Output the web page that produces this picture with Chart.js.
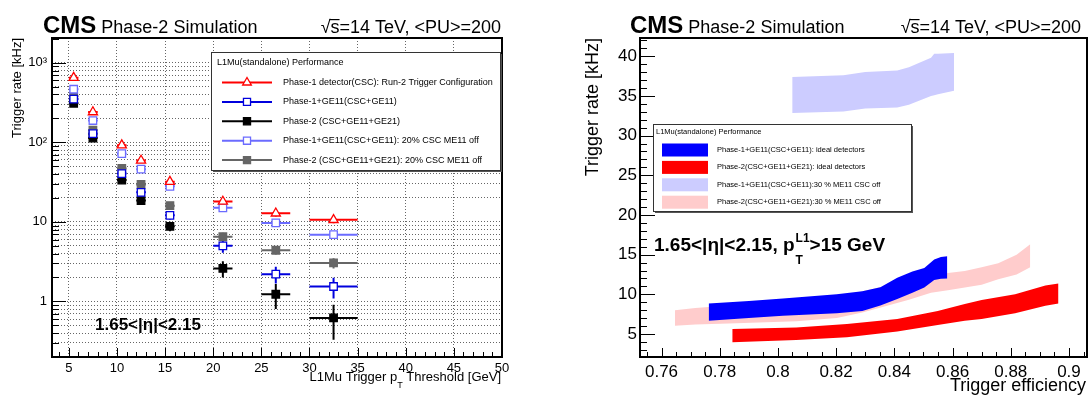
<!DOCTYPE html>
<html lang="en">
<head>
<meta charset="UTF-8">
<title>L1Mu Phase-2 trigger rate</title>
<script src="https://cdn.jsdelivr.net/npm/chart.js"></script>
<style>
  body { margin: 0; background: #fff; }
  #leftBox { position: absolute; left: 0; top: 0; }
  #rightBox { position: absolute; left: 545px; top: 0; }
</style>
</head>
<body>
<div id="leftBox"><canvas id="rateChart" width="545" height="396"></canvas></div>
<div id="rightBox"><canvas id="effChart" width="544" height="396"></canvas></div>
<script>
// ---------- left panel: rate vs L1 pT threshold ----------
var ptThresholds = [5.5, 7.5, 10.5, 12.5, 15.5, 21, 26.5, 32.5];
var ptBinLow  = [5, 7, 10, 12, 15, 20, 25, 30];
var ptBinHigh = [6, 8, 11, 13, 16, 22, 28, 35];

var ratePhase1Run2 = [650, 240, 92, 59, 32, 18.0, 12.8, 10.6];
var errPhase1Run2  = [12, 7, 4, 3, 2.2, 1.3, 1.1, 1.0];
var ratePhase1GE11 = [350, 129, 40.5, 23.5, 12.1, 5.0, 2.2, 1.54];
var errPhase1GE11  = [9, 5, 2.7, 2.0, 1.4, 0.9, 0.52, 0.45];
var ratePhase2     = [310, 113, 33.5, 18.5, 8.8, 2.6, 1.23, 0.62];
var errPhase2      = [8, 5, 2.5, 1.8, 1.2, 0.6, 0.43, 0.29];
var ratePhase1GE11Off = [465, 188, 72, 46, 28, 15.0, 9.7, 6.9];
var errPhase1GE11Off  = [10, 6, 3.5, 2.8, 2.2, 1.2, 1.0, 0.8];
var ratePhase2Off     = [380, 142, 47, 29.5, 16, 6.5, 4.4, 3.05];
var errPhase2Off      = [9, 5.5, 2.8, 2.2, 1.6, 0.8, 0.5, 0.45];

var ptTicks = [5, 10, 15, 20, 25, 30, 35, 40, 45, 50];
var rateDecades = [1, 10, 100, 1000];

// ---------- right panel: rate vs efficiency bands ----------
var effPhase1Ideal  = [0.7762, 0.790, 0.8017, 0.8202, 0.829, 0.8352, 0.841, 0.8462, 0.8503, 0.8537, 0.8560, 0.8582];
var ratePhase1IdealHi = [8.84, 9.15, 9.47, 10.0, 10.4, 10.9, 12.1, 12.86, 13.3, 14.4, 14.7, 14.8];
var ratePhase1IdealLo = [6.67, 7.0, 7.3, 7.6, 7.9, 8.6, 9.4, 10.2, 10.85, 11.8, 11.95, 12.0];

var effPhase2Ideal  = [0.7843, 0.8063, 0.8237, 0.841, 0.8549, 0.8642, 0.870, 0.8815, 0.8919, 0.8964];
var ratePhase2IdealHi = [5.63, 5.83, 6.26, 6.9, 7.9, 8.77, 9.27, 10.0, 11.1, 11.35];
var ratePhase2IdealLo = [3.95, 4.25, 4.58, 5.3, 6.13, 6.67, 6.9, 7.6, 8.55, 8.85];

var effPhase1Off  = [0.8049, 0.8225, 0.830, 0.841, 0.845, 0.8526, 0.8537, 0.855, 0.8605];
var ratePhase1OffHi = [37.4, 37.6, 38.0, 38.2, 38.6, 39.8, 40.3, 40.3, 40.4];
var ratePhase1OffLo = [32.85, 33.05, 33.4, 33.55, 33.9, 35.0, 35.1, 35.2, 35.65];

var effPhase2Off  = [0.7646, 0.7716, 0.7831, 0.8063, 0.8202, 0.829, 0.835, 0.845, 0.8526, 0.8584, 0.8642, 0.870, 0.8757, 0.882, 0.8867];
var ratePhase2OffHi = [8.0, 8.27, 8.6, 9.1, 9.6, 10.4, 10.9, 11.4, 12.2, 12.7, 12.95, 13.4, 13.9, 15.0, 16.3];
var ratePhase2OffLo = [6.05, 6.2, 6.33, 6.6, 7.0, 7.7, 8.3, 9.3, 10.2, 10.5, 10.85, 11.2, 11.9, 12.5, 13.4];

var effTicks = [0.76, 0.78, 0.8, 0.82, 0.84, 0.86, 0.88, 0.9];
var rateTicksRight = [5, 10, 15, 20, 25, 30, 35, 40];

var FONT = "'Liberation Sans', Arial, Helvetica, sans-serif";
Chart.defaults.font.family = FONT;
Chart.defaults.color = '#000';

var rateSeries = [
  { label: 'Phase-1 detector(CSC): Run-2 Trigger Configuration', values: ratePhase1Run2, err: errPhase1Run2, color: '#ff0000', style: 'triangle', open: true },
  { label: 'Phase-1+GE11(CSC+GE11)', values: ratePhase1GE11, err: errPhase1GE11, color: '#0000dd', style: 'rect', open: true },
  { label: 'Phase-2 (CSC+GE11+GE21)', values: ratePhase2, err: errPhase2, color: '#000000', style: 'rect', open: false },
  { label: 'Phase-1+GE11(CSC+GE11): 20% CSC ME11 off', values: ratePhase1GE11Off, err: errPhase1GE11Off, color: '#6b6bff', style: 'rect', open: true },
  { label: 'Phase-2 (CSC+GE11+GE21): 20% CSC ME11 off', values: ratePhase2Off, err: errPhase2Off, color: '#666666', style: 'rect', open: false }
];

var bandSeries = [
  { label: 'Phase-1+GE11(CSC+GE11): ideal detectors', eff: effPhase1Ideal, hi: ratePhase1IdealHi, lo: ratePhase1IdealLo, color: '#0000ff', order: 1 },
  { label: 'Phase-2(CSC+GE11+GE21): ideal detectors', eff: effPhase2Ideal, hi: ratePhase2IdealHi, lo: ratePhase2IdealLo, color: '#ff0000', order: 2 },
  { label: 'Phase-1+GE11(CSC+GE11):30 % ME11 CSC off', eff: effPhase1Off, hi: ratePhase1OffHi, lo: ratePhase1OffLo, color: '#ccccff', order: 3 },
  { label: 'Phase-2(CSC+GE11+GE21):30 % ME11 CSC off', eff: effPhase2Off, hi: ratePhase2OffHi, lo: ratePhase2OffLo, color: '#ffcccc', order: 4 }
];

// ---------- drawing helpers ----------
function marker(ctx, style, open, color, x, y, r) {
  ctx.save();
  ctx.beginPath();
  if (style === 'triangle') {
    ctx.moveTo(x, y - r); ctx.lineTo(x + r * 0.866, y + r * 0.5); ctx.lineTo(x - r * 0.866, y + r * 0.5); ctx.closePath();
  } else {
    var s = r * Math.SQRT1_2;
    ctx.rect(x - s, y - s, 2 * s, 2 * s);
  }
  ctx.fillStyle = open ? '#fff' : color; ctx.fill();
  ctx.lineWidth = 1.3; ctx.strokeStyle = color; ctx.stroke();
  ctx.restore();
}

function header(ctx, cmsX, rightX) {
  ctx.save();
  ctx.fillStyle = '#000'; ctx.textBaseline = 'alphabetic'; ctx.textAlign = 'left';
  ctx.font = 'bold 24px ' + FONT;
  ctx.fillText('CMS', cmsX, 33);
  var w = ctx.measureText('CMS').width;
  ctx.font = '18px ' + FONT;
  ctx.fillText('Phase-2 Simulation', cmsX + w + 5, 33);
  var txt = '√s=14 TeV, <PU>=200';
  var tw = ctx.measureText(txt).width;
  ctx.fillText(txt, rightX - tw, 33);
  // bar over the s of the square root
  var wr = ctx.measureText('√').width, ws = ctx.measureText('s').width;
  ctx.fillRect(rightX - tw + wr - 1, 19, ws + 1, 1.2);
  ctx.restore();
}

function frameAndTicks(chart, spec) {
  var ctx = chart.ctx, a = chart.chartArea, xs = chart.scales.x, ys = chart.scales.y;
  ctx.save();
  ctx.strokeStyle = '#000'; ctx.lineWidth = 1;
  ctx.beginPath();
  function tx(v, len) { var p = Math.round(xs.getPixelForValue(v)) + 0.5; ctx.moveTo(p, a.bottom); ctx.lineTo(p, a.bottom - len); }
  function ty(v, len) { var p = Math.round(ys.getPixelForValue(v)) + 0.5; ctx.moveTo(a.left, p); ctx.lineTo(a.left + len, p); }
  spec.xMajor.forEach(function (v) { tx(v, spec.xMajorLen); });
  spec.xMinor.forEach(function (v) { tx(v, spec.xMinorLen); });
  spec.yMajor.forEach(function (v) { ty(v, spec.yMajorLen); });
  spec.yMinor.forEach(function (v) { ty(v, spec.yMinorLen); });
  ctx.stroke();
  ctx.lineWidth = 2;
  ctx.strokeRect(a.left, a.top, a.right - a.left, a.bottom - a.top);
  ctx.restore();
}

function legendBox(ctx, x1, y1, x2, y2) {
  ctx.save();
  ctx.fillStyle = '#fff'; ctx.fillRect(x1, y1, x2 - x1, y2 - y1);
  ctx.fillStyle = '#555';
  ctx.fillRect(x2, y1 + 2, 2, y2 - y1);
  ctx.fillRect(x1 + 2, y2, x2 - x1, 2);
  ctx.strokeStyle = '#333'; ctx.lineWidth = 1;
  ctx.strokeRect(x1 + 0.5, y1 + 0.5, x2 - x1, y2 - y1);
  ctx.restore();
}

// ---------- left chart plugins ----------
var errorBars = {
  id: 'errorBars',
  beforeDatasetsDraw: function (chart) {
    var ctx = chart.ctx, xs = chart.scales.x, ys = chart.scales.y;
    chart.data.datasets.forEach(function (ds) {
      ctx.save();
      ctx.strokeStyle = ds.borderColor; ctx.lineWidth = 2;
      ctx.beginPath();
      ds.data.forEach(function (p, i) {
        var x = xs.getPixelForValue(p.x), y = ys.getPixelForValue(p.y);
        ctx.moveTo(xs.getPixelForValue(ptBinLow[i]), y);
        ctx.lineTo(xs.getPixelForValue(ptBinHigh[i]), y);
        ctx.moveTo(x, ys.getPixelForValue(p.y - ds.yErr[i]));
        ctx.lineTo(x, ys.getPixelForValue(p.y + ds.yErr[i]));
      });
      ctx.stroke();
      ctx.restore();
    });
  }
};

var rateDecor = {
  id: 'rateDecor',
  afterDraw: function (chart) {
    var ctx = chart.ctx, a = chart.chartArea;
    var xMinor = [], yMinor = [];
    for (var i = 4; i < 50; i++) if (i % 5) xMinor.push(i);
    [0.1, 1, 10, 100, 1000].forEach(function (d) { for (var k = 2; k <= 9; k++) if (k * d >= 0.2 && k * d <= 2000) yMinor.push(k * d); });
    frameAndTicks(chart, { xMajor: ptTicks, xMajorLen: 9, xMinor: xMinor, xMinorLen: 5,
                           yMajor: rateDecades, yMajorLen: 14, yMinor: yMinor, yMinorLen: 7 });
    header(ctx, 43, 501);

    ctx.save();
    ctx.fillStyle = '#000';
    // y title
    ctx.font = '13px ' + FONT;
    ctx.translate(17, a.top);
    ctx.rotate(-Math.PI / 2);
    ctx.textAlign = 'right'; ctx.textBaseline = 'middle';
    ctx.fillText('Trigger rate [kHz]', 0, 0);
    ctx.restore();

    // x title with subscript
    ctx.save();
    ctx.fillStyle = '#000'; ctx.textAlign = 'left'; ctx.textBaseline = 'alphabetic';
    ctx.font = '9px ' + FONT; var wT = ctx.measureText('T').width;
    ctx.font = '13px ' + FONT;
    var s1 = 'L1Mu Trigger p', s2 = ' Threshold [GeV]';
    var w1 = ctx.measureText(s1).width, w2 = ctx.measureText(s2).width;
    var x0 = a.right - 1 - w1 - wT - w2;
    ctx.fillText(s1, x0, 381);
    ctx.fillText(s2, x0 + w1 + wT, 381);
    ctx.font = '9px ' + FONT; ctx.fillText('T', x0 + w1, 388);

    // eta label
    ctx.font = 'bold 17px ' + FONT;
    ctx.fillText('1.65<|η|<2.15', 95, 330);
    ctx.restore();

    // legend
    var lx1 = a.left + 159, ly1 = a.top + 14, lx2 = a.right - 2, ly2 = a.top + 132;
    legendBox(ctx, lx1, ly1, lx2, ly2);
    ctx.save();
    ctx.fillStyle = '#000'; ctx.font = '9px ' + FONT; ctx.textBaseline = 'middle'; ctx.textAlign = 'left';
    ctx.fillText('L1Mu(standalone) Performance', lx1 + 6, ly1 + 11);
    rateSeries.forEach(function (s, i) {
      var y = ly1 + 30.5 + i * 19.4;
      ctx.strokeStyle = s.color; ctx.lineWidth = 2;
      ctx.beginPath(); ctx.moveTo(lx1 + 11, y); ctx.lineTo(lx1 + 61, y); ctx.stroke();
      marker(ctx, s.style, s.open, s.color, lx1 + 36, y, 5);
      ctx.fillStyle = '#000';
      ctx.fillText(s.label, lx1 + 72, y);
    });
    ctx.restore();
  }
};

new Chart(document.getElementById('rateChart'), {
  type: 'scatter',
  data: {
    datasets: rateSeries.map(function (s) {
      return {
        label: s.label,
        data: ptThresholds.map(function (x, i) { return { x: x, y: s.values[i] }; }),
        yErr: s.err,
        borderColor: s.color,
        backgroundColor: s.open ? '#ffffff' : s.color,
        pointStyle: s.style,
        pointRadius: 5.3,
        pointBorderWidth: 1.3,
        showLine: false
      };
    })
  },
  options: {
    responsive: false,
    animation: false,
    layout: { padding: { top: 38, right: 43, left: 0, bottom: 0 } },
    plugins: { legend: { display: false }, tooltip: { enabled: false } },
    scales: {
      x: {
        type: 'linear', min: 3.25, max: 50,
        afterBuildTicks: function (s) { s.ticks = ptTicks.map(function (v) { return { value: v }; }); },
        afterFit: function (s) { s.height = 39; },
        grid: { color: '#666', lineWidth: 1, drawTicks: false },
        border: { display: false, dash: [1, 2] },
        ticks: { padding: 4, font: { size: 13 }, maxRotation: 0, autoSkip: false, color: '#000' }
      },
      y: {
        type: 'logarithmic', min: 0.2, max: 2050,
        afterBuildTicks: function (s) {
          var t = [];
          [0.1, 1, 10, 100, 1000].forEach(function (d) { for (var k = 1; k <= 9; k++) { var v = k * d; if (v >= 0.2 && v <= 2000) t.push({ value: v }); } });
          s.ticks = t;
        },
        afterFit: function (s) { s.width = 52; },
        grid: { color: '#666', lineWidth: 1, drawTicks: false },
        border: { display: false, dash: [1, 2] },
        ticks: {
          padding: 5, font: { size: 13 }, autoSkip: false, color: '#000',
          callback: function (v) {
            if (v === 1) return '1';
            if (v === 10) return '10';
            if (v === 100) return '10²';
            if (v === 1000) return '10³';
            return '';
          }
        }
      }
    }
  },
  plugins: [errorBars, rateDecor]
});

// ---------- right chart ----------
var effDecor = {
  id: 'effDecor',
  afterDraw: function (chart) {
    var ctx = chart.ctx, a = chart.chartArea;
    var xMinor = [], yMinor = [];
    for (var i = 151; i <= 181; i++) if (i % 4) xMinor.push(i * 0.005);
    for (var j = 3; j <= 42; j++) if (j % 5) yMinor.push(j);
    frameAndTicks(chart, { xMajor: effTicks, xMajorLen: 9, xMinor: xMinor, xMinorLen: 5,
                           yMajor: rateTicksRight, yMajorLen: 15, yMinor: yMinor, yMinorLen: 7 });
    header(ctx, 85, 536);

    ctx.save();
    ctx.fillStyle = '#000';
    ctx.font = '18px ' + FONT;
    ctx.translate(48, a.top);
    ctx.rotate(-Math.PI / 2);
    ctx.textAlign = 'right'; ctx.textBaseline = 'middle';
    ctx.fillText('Trigger rate [kHz]', 0, 0);
    ctx.restore();

    ctx.save();
    ctx.fillStyle = '#000'; ctx.font = '18px ' + FONT; ctx.textAlign = 'right'; ctx.textBaseline = 'alphabetic';
    ctx.fillText('Trigger efficiency', a.right - 1, 391);

    // cut label with p_T^L1
    ctx.textAlign = 'left';
    ctx.font = 'bold 19px ' + FONT;
    var main = '1.65<|η|<2.15, p';
    var x0 = a.left + 14;
    ctx.fillText(main, x0, 251);
    var wm = ctx.measureText(main).width;
    ctx.font = 'bold 12px ' + FONT;
    var wL = ctx.measureText('L1').width;
    ctx.fillText('L1', x0 + wm + 1, 241.5);
    ctx.fillText('T', x0 + wm + 1, 264);
    ctx.font = 'bold 19px ' + FONT;
    ctx.fillText('>15 GeV', x0 + wm + wL + 1, 251);
    ctx.restore();

    // legend
    var lx1 = a.left + 13, ly1 = 124, lx2 = a.left + 271, ly2 = 211;
    legendBox(ctx, lx1, ly1, lx2, ly2);
    ctx.save();
    ctx.fillStyle = '#000'; ctx.font = '7.5px ' + FONT; ctx.textBaseline = 'middle'; ctx.textAlign = 'left';
    ctx.fillText('L1Mu(standalone) Performance', lx1 + 3, ly1 + 8);
    bandSeries.forEach(function (s, i) {
      var y = ly1 + 26 + i * 17.4;
      ctx.fillStyle = s.color;
      ctx.fillRect(lx1 + 9, y - 6.5, 46, 13);
      ctx.fillStyle = '#000';
      ctx.fillText(s.label, lx1 + 64, y);
    });
    ctx.restore();
  }
};

var bandDatasets = [];
bandSeries.forEach(function (s) {
  bandDatasets.push({
    label: s.label,
    data: s.eff.map(function (x, i) { return { x: x, y: s.hi[i] }; }),
    fill: '+1', backgroundColor: s.color, borderWidth: 0, borderColor: 'rgba(0,0,0,0)',
    pointRadius: 0, tension: 0, order: s.order
  });
  bandDatasets.push({
    label: s.label + ' low',
    data: s.eff.map(function (x, i) { return { x: x, y: s.lo[i] }; }),
    fill: false, borderWidth: 0, borderColor: 'rgba(0,0,0,0)',
    pointRadius: 0, tension: 0, order: s.order
  });
});

new Chart(document.getElementById('effChart'), {
  type: 'line',
  data: { datasets: bandDatasets },
  options: {
    responsive: false,
    animation: false,
    layout: { padding: { top: 38, right: 2, left: 0, bottom: 0 } },
    plugins: { legend: { display: false }, tooltip: { enabled: false } },
    scales: {
      x: {
        type: 'linear', min: 0.7526, max: 0.9062,
        afterBuildTicks: function (s) { s.ticks = effTicks.map(function (v) { return { value: v }; }); },
        afterFit: function (s) { s.height = 39; },
        grid: { display: false, drawTicks: false },
        border: { display: false },
        ticks: { padding: 5, font: { size: 17 }, maxRotation: 0, autoSkip: false, color: '#000',
                 callback: function (v) { return String(+v.toFixed(2)); } }
      },
      y: {
        type: 'linear', min: 2.1, max: 42.3,
        afterBuildTicks: function (s) { s.ticks = rateTicksRight.map(function (v) { return { value: v }; }); },
        afterFit: function (s) { s.width = 95; },
        grid: { display: false, drawTicks: false },
        border: { display: false },
        ticks: { padding: 3, font: { size: 17 }, autoSkip: false, color: '#000' }
      }
    }
  },
  plugins: [effDecor]
});
</script>
</body>
</html>
